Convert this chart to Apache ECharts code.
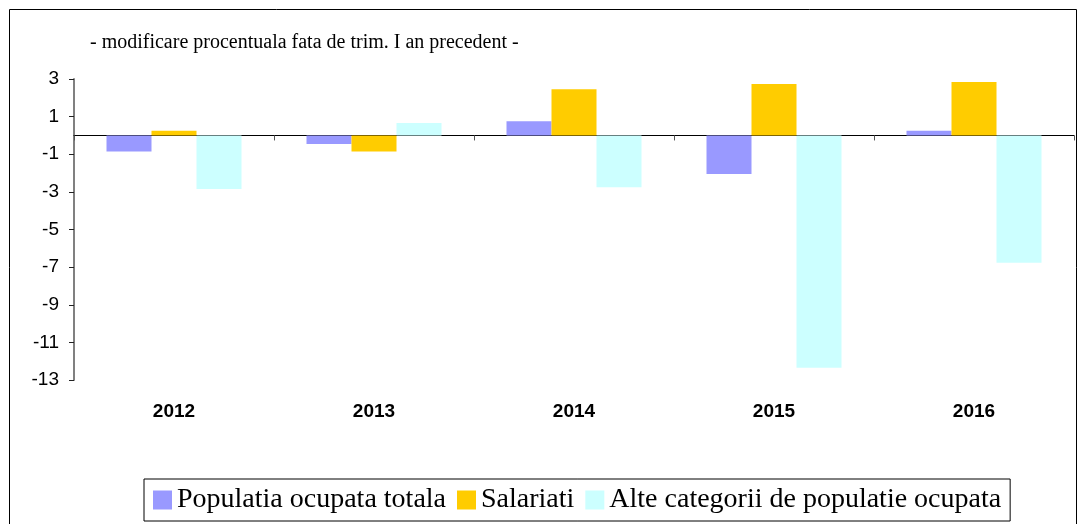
<!DOCTYPE html>
<html>
<head>
<meta charset="utf-8">
<script src="https://cdn.jsdelivr.net/npm/echarts@6/dist/echarts.min.js"></script>
<style>
html,body{margin:0;padding:0;background:#fff;}
#c{width:1080px;height:524px;}
</style>
</head>
<body>
<div id="c"></div>
<script>
var categories = ['2012', '2013', '2014', '2015', '2016'];
var seriesNames = ['Populatia ocupata totala', 'Salariati', 'Alte categorii de populatie ocupata'];
var populatiaTotala = [-0.85, -0.46, 0.75, -2.05, 0.25];
var salariati = [0.25, -0.85, 2.45, 2.73, 2.84];
var alteCategorii = [-2.85, 0.66, -2.76, -12.35, -6.77];
var yTicks = [-13, -11, -9, -7, -5, -3, -1, 1, 3];
var titleText = '- modificare procentuala fata de trim. I an precedent -';

var colors = ['#9999ff', '#ffcc00', '#ccffff'];
var chart = echarts.init(document.getElementById('c'), null, {renderer: 'canvas'});

function bar(name, data, color) {
  return {
    name: name, type: 'bar', data: data, xAxisIndex: 0, yAxisIndex: 0,
    barWidth: 45, barGap: '0%',
    itemStyle: {color: color}, emphasis: {disabled: true}, silent: true
  };
}

chart.setOption({
  animation: false,
  backgroundColor: '#ffffff',
  title: {
    text: titleText, left: 90, top: 33, padding: 0,
    textStyle: {fontFamily: 'Liberation Serif', fontSize: 20, fontWeight: 'normal', color: '#000'}
  },
  legend: {
    data: seriesNames,
    left: 144, top: 479,
    orient: 'horizontal',
    icon: 'rect', itemWidth: 19, itemHeight: 19, itemGap: 11,
    borderColor: '#000', borderWidth: 1, padding: [7, 9, 7, 9],
    textStyle: {fontFamily: 'Liberation Serif', fontSize: 28, lineHeight: 27, color: '#000'}
  },
  grid: {left: 74, right: 6, top: 79, bottom: 144, containLabel: false},
  xAxis: [
    {
      type: 'category', data: categories, position: 'bottom',
      axisLine: {show: true, onZero: true, lineStyle: {color: '#000', width: 1}},
      axisTick: {show: true, length: 5, inside: false, lineStyle: {color: '#555'}},
      axisLabel: {show: false},
      splitLine: {show: false}
    },
    {
      type: 'category', data: categories, position: 'bottom',
      axisLine: {show: false, onZero: false},
      axisTick: {show: false},
      axisLabel: {show: true, margin: 22, fontFamily: 'Liberation Sans', fontSize: 19, fontWeight: 'bold', color: '#000'},
      splitLine: {show: false}
    }
  ],
  yAxis: {
    type: 'value', min: -13, max: 3,
    axisLine: {show: true, lineStyle: {color: '#808080', width: 2}},
    axisTick: {show: true, length: 5, inside: false, customValues: yTicks, lineStyle: {color: '#222'}},
    axisLabel: {show: true, margin: 15, customValues: yTicks, fontFamily: 'Liberation Sans', fontSize: 19, color: '#000'},
    splitLine: {show: false}
  },
  graphic: [
    {type: 'rect', shape: {x: 9.5, y: 9.5, width: 1067, height: 540}, style: {fill: 'none', stroke: '#000', lineWidth: 1}, silent: true, z: 100}
  ],
  series: [
    bar(seriesNames[0], populatiaTotala, colors[0]),
    bar(seriesNames[1], salariati, colors[1]),
    bar(seriesNames[2], alteCategorii, colors[2])
  ]
});
</script>
</body>
</html>
